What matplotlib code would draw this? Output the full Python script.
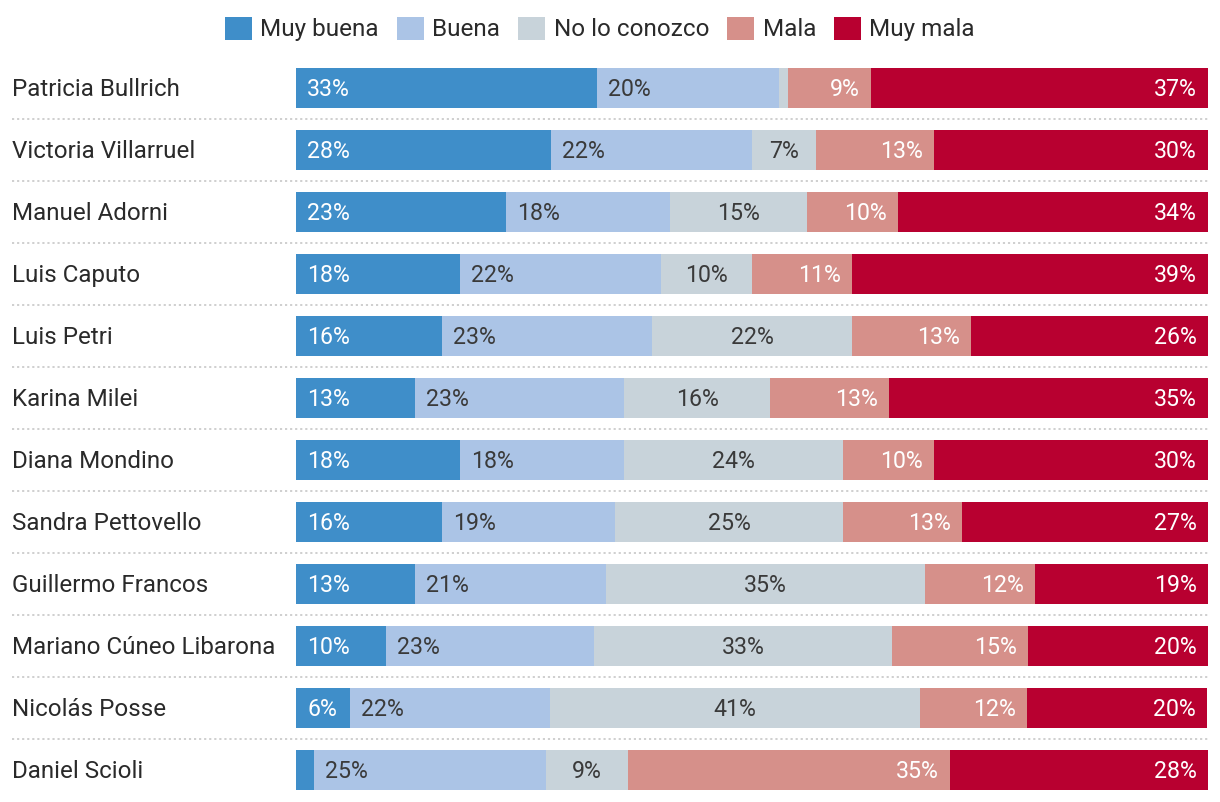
import matplotlib.pyplot as plt
from matplotlib.patches import Patch

plt.rcParams["font.family"] = ["Roboto", "DejaVu Sans"]

nombres = [
    "Patricia Bullrich",
    "Victoria Villarruel",
    "Manuel Adorni",
    "Luis Caputo",
    "Luis Petri",
    "Karina Milei",
    "Diana Mondino",
    "Sandra Pettovello",
    "Guillermo Francos",
    "Mariano Cúneo Libarona",
    "Nicolás Posse",
    "Daniel Scioli",
]
categorias = ["Muy buena", "Buena", "No lo conozco", "Mala", "Muy mala"]

muy_buena = [33, 28, 23, 18, 16, 13, 18, 16, 13, 9.9, 5.9, 2.0]
buena = [20, 22, 18, 22, 23, 23, 18, 19, 21, 22.8, 21.9, 25.4]
no_conozco = [1, 7, 15, 10, 22, 16, 24, 25, 35, 32.7, 40.6, 9.0]
mala = [9, 13, 10, 11, 13, 13, 10, 13, 12, 14.9, 11.8, 35.3]
muy_mala = [37, 30, 34, 39, 26, 35, 30, 27, 19, 19.7, 19.7, 28.3]

series = [muy_buena, buena, no_conozco, mala, muy_mala]
colores = ["#3f8ec9", "#abc4e6", "#c8d3da", "#d6908a", "#b80030"]
color_texto = ["white", "#3a3a3a", "#3a3a3a", "white", "white"]
alineacion = ["left", "left", "center", "right", "right"]

fig = plt.figure(figsize=(12.2, 8.02), dpi=100)
ax = fig.add_axes([296 / 1220, 1 - 801 / 802, 912 / 1220, 744 / 802])

n = len(nombres)
y = list(range(n))
izquierda = [0.0] * n
for serie, color, tcol, ha in zip(series, colores, color_texto, alineacion):
    ax.barh(y, serie, left=izquierda, height=40 / 62, color=color, linewidth=0)
    for i, v in enumerate(serie):
        if v >= 4:
            if ha == "left":
                x, dx = izquierda[i], 8
            elif ha == "right":
                x, dx = izquierda[i] + v, -8
            else:
                x, dx = izquierda[i] + v / 2, 0
            ax.annotate(f"{round(v)}%", (x, i), xytext=(dx, -1.3),
                        textcoords="offset points", ha=ha, va="center",
                        fontsize=16.7, color=tcol)
    izquierda = [a + b for a, b in zip(izquierda, serie)]

ax.set_xlim(0, 100)
ax.set_ylim(n - 0.5, -0.5)
ax.axis("off")

# nombres y separadores punteados
x0 = (12 - 296) / 912
for i, nombre in enumerate(nombres):
    ax.text(x0, i + 0.03, nombre, transform=ax.get_yaxis_transform(), ha="left",
            va="center", fontsize=17.4, color="#2a2a2a")
    if i < n - 1:
        ax.plot([x0, 1], [i + 0.5, i + 0.5], transform=ax.get_yaxis_transform(),
                color="#cccccc", linestyle=(0, (1.2, 1.6)), linewidth=1.3,
                clip_on=False)

handles = [Patch(facecolor=c, edgecolor="none") for c in colores]
fig.legend(handles, categorias, loc="center", bbox_to_anchor=(600 / 1220, 1 - 29 / 802),
           ncol=5, frameon=False, handlelength=1.1, handleheight=1.1,
           handletextpad=0.35, columnspacing=0.75, labelcolor="#2a2a2a",
           prop={"size": 17.5})

fig.savefig("out.png", dpi=100)
